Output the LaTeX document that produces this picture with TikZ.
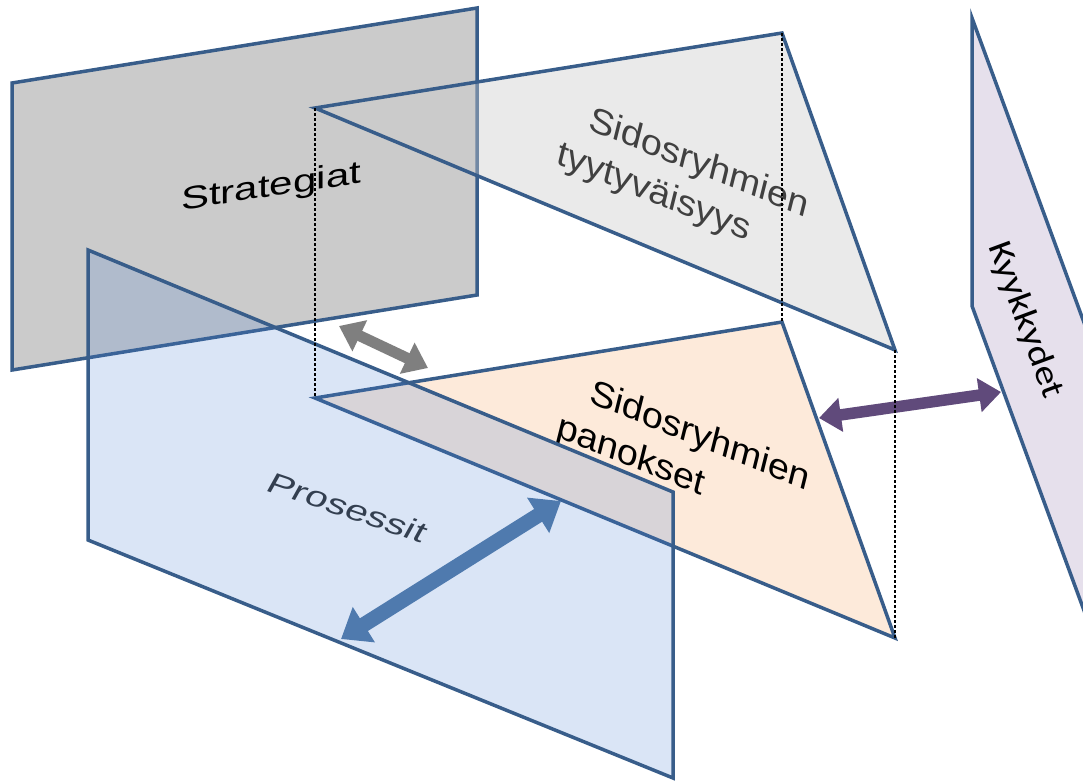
\documentclass[tikz,border=0pt]{standalone}
\usepackage{fontspec}
\setmainfont{Liberation Sans}
\newfontfamily\calibfont{Carlito}
\usetikzlibrary{arrows.meta}
\definecolor{edgec}{HTML}{385D8A}
\definecolor{stratfill}{HTML}{CBCBCB}
\definecolor{peach}{HTML}{FDEADA}
\definecolor{procblue}{RGB}{70,125,210}
\definecolor{lavender}{HTML}{E6E0EC}
\definecolor{arrgray}{HTML}{7F7F7F}
\definecolor{arrpurple}{HTML}{604A7B}
\definecolor{arrblue}{HTML}{4F7AAE}
\definecolor{darktext}{HTML}{404040}
\definecolor{slatetext}{HTML}{333F50}
\begin{document}
\begin{tikzpicture}[x=1pt,y=-1pt,
  plane/.style={draw=edgec, line width=3.5pt, line join=miter},
  lbl/.style={anchor=base west, inner sep=0pt, outer sep=0pt, transform shape, font=\fontsize{32}{38}\selectfont},
  guide/.style={draw=black, line width=1.4pt, dash pattern=on 3pt off 2pt},
  grayarrow/.style={draw=arrgray, line width=11pt, {Triangle[length=23pt,width=33pt]}-{Triangle[length=23pt,width=33pt]}},
  purplearrow/.style={draw=arrpurple, line width=11.5pt, {Triangle[length=22pt,width=33pt]}-{Triangle[length=22pt,width=33pt]}},
  bluearrow/.style={draw=arrblue, line width=15pt, {Triangle[length=27pt,width=40pt]}-{Triangle[length=27pt,width=40pt]}}
]
\useasboundingbox (0,0) rectangle (1083,780);
\clip (0,0) rectangle (1083,780);

% corner coordinates
\coordinate (S1) at (12,83);
\coordinate (S2) at (477,8);
\coordinate (S3) at (477,295);
\coordinate (S4) at (12,370);
\coordinate (A) at (315,108);
\coordinate (B) at (782,33);
\coordinate (C) at (895,350);
\coordinate (D) at (315,398);
\coordinate (E) at (782,322);
\coordinate (F) at (895,638);
\coordinate (P1) at (88,250);
\coordinate (P2) at (673,492);
\coordinate (P3) at (673,778);
\coordinate (P4) at (88,540);
\coordinate (K1) at (972,18);
\coordinate (K2) at (1100,366);
\coordinate (K3) at (1100,654);
\coordinate (K4) at (972,306);

% Strategiat plane
\path[plane, fill=stratfill] (S1) -- (S2) -- (S3) -- (S4) -- cycle;
\node[shift={(181,210)}, cm={1.315,0.197,0,1.0,(0,0)}, lbl, font=\fontsize{32}{38}\selectfont, text=black] (tStrat) {Strategiat};

% upper triangle
\path[plane, fill=stratfill, fill opacity=0.4] (A) -- (B) -- (C) -- cycle;
\node[shift={(587,129)}, cm={1.13,-0.456,0.266,1.067,(0,0)}, lbl, text=darktext] (tTyy1) {Sidosryhmien};
\node[shift={(555,163)}, cm={1.13,-0.456,0.266,1.067,(0,0)}, lbl, text=darktext] (tTyy2) {tyytyväisyys};

% gray arrow
\coordinate (g1) at (339,326);
\coordinate (g2) at (428,368);
\draw[grayarrow] (g1) -- (g2);

% lower triangle
\path[plane, fill=peach] (D) -- (E) -- (F) -- cycle;
\node[shift={(588,402)}, cm={1.13,-0.456,0.266,1.067,(0,0)}, lbl, text=black] (tPan1) {Sidosryhmien};
\node[shift={(555,436)}, cm={1.13,-0.456,0.266,1.067,(0,0)}, lbl, text=black] (tPan2) {panokset};

% Prosessit plane
\path[fill=procblue, fill opacity=0.2] (P1) -- (P2) -- (P3) -- (P4) -- cycle;
\draw[plane] (P1) -- (P2) -- (P3) -- (P4) -- cycle;
\node[shift={(264,490)}, cm={1.27,-0.432,0.48,0.865,(0,0)}, lbl, font=\fontsize{30}{36}\selectfont, text=slatetext] (tProc) {Prosessit};

% blue arrow
\coordinate (bl1) at (341,639);
\coordinate (bl2) at (561,501);
\draw[bluearrow] (bl1) -- (bl2);

% Kyykkydet plane
\path[plane, fill=lavender] (K1) -- (K2) -- (K3) -- (K4) -- cycle;
\node[shift={(1025,320)}, cm={0.409,-1.107,0.938,0.347,(0,0)}, anchor=center, inner sep=0pt, transform shape, font=\calibfont\fontsize{34}{40}\selectfont, text=black] (tKyy) {Kyykkydet};

% purple arrow
\coordinate (pu1) at (819,418);
\coordinate (pu2) at (1001,392);
\draw[purplearrow] (pu1) -- (pu2);

% dotted guides
\draw[guide] (A) -- (D);
\draw[guide] (B) -- (E);
\draw[guide] (C) -- (F);
\end{tikzpicture}
\end{document}
